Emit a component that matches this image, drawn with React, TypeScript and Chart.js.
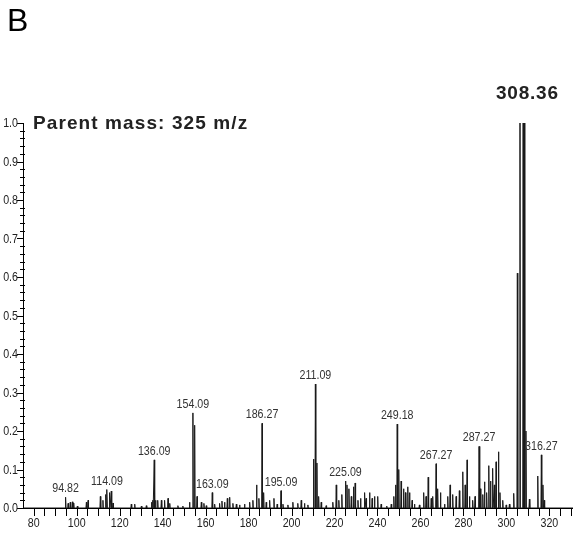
import React, { useEffect, useRef } from 'react';
import { Chart, registerables } from 'chart.js';

Chart.register(...registerables);

// m/z positions of peaks and their relative intensities (values > 1 are clipped at the top)
const PEAK_MZ = [
  94.82, 96.0, 97.0, 98.0, 98.6, 100.3, 104.5, 105.3, 111.0, 112.2, 113.5, 114.09, 115.3, 116.1, 116.9,
  125.4, 127.0, 130.1, 132.4, 134.8, 135.4, 136.09, 136.7, 137.7, 139.4, 140.9, 142.5, 143.3, 147.1, 149.4,
  152.5, 154.09, 154.9, 156.0, 158.0, 159.2, 160.3, 163.09, 164.2, 166.5, 167.6, 168.8, 170.1, 171.2, 172.7,
  174.3, 175.8, 178.1, 180.5, 182.0, 183.7, 184.8, 186.27, 187.0, 188.2, 189.8, 191.8, 193.3, 195.09, 196.0,
  198.3, 200.6, 202.9, 204.5, 206.0, 207.6, 210.2, 211.09, 211.8, 212.6, 213.8, 216.1, 219.2, 220.8, 222.0,
  223.4, 225.09, 225.8, 226.7, 227.8, 228.8, 229.6, 230.9, 232.1, 234.0, 234.7, 236.3, 237.5, 238.6, 240.1,
  241.7, 244.3, 246.4, 247.6, 248.4, 249.18, 249.9, 251.0, 252.1, 253.0, 254.1, 254.9, 256.1, 257.2, 259.5,
  261.5, 262.6, 263.6, 265.0, 265.7, 267.27, 268.0, 269.3, 271.2, 272.7, 273.8, 275.0, 276.6, 278.1, 279.7,
  280.8, 281.7, 282.8, 284.3, 285.4, 287.27, 287.9, 289.0, 289.8, 290.8, 291.8, 292.6, 293.6, 294.4, 295.2,
  296.3, 297.0, 298.3, 299.9, 301.4, 303.4, 305.1, 306.3, 307.8, 308.36, 309.1, 310.7, 314.6, 316.27, 317.0,
  317.6,
];
const PEAK_INT = [
  0.028, 0.012, 0.015, 0.016, 0.013, 0.005, 0.015, 0.02, 0.03, 0.02, 0.035, 0.048, 0.04, 0.044, 0.013,
  0.01, 0.01, 0.005, 0.006, 0.015, 0.02, 0.125, 0.02, 0.02, 0.02, 0.02, 0.025, 0.012, 0.006, 0.005,
  0.015, 0.247, 0.215, 0.03, 0.015, 0.012, 0.006, 0.04, 0.01, 0.012, 0.018, 0.015, 0.025, 0.028, 0.012,
  0.01, 0.008, 0.01, 0.015, 0.02, 0.06, 0.025, 0.22, 0.04, 0.015, 0.02, 0.025, 0.01, 0.045, 0.01,
  0.008, 0.015, 0.012, 0.02, 0.012, 0.008, 0.127, 0.322, 0.117, 0.03, 0.015, 0.006, 0.015, 0.06, 0.02,
  0.035, 0.07, 0.06, 0.05, 0.03, 0.055, 0.065, 0.02, 0.025, 0.04, 0.025, 0.04, 0.025, 0.03, 0.03,
  0.01, 0.005, 0.01, 0.03, 0.06, 0.218, 0.1, 0.07, 0.05, 0.04, 0.055, 0.04, 0.02, 0.01, 0.008,
  0.04, 0.03, 0.08, 0.025, 0.03, 0.115, 0.05, 0.04, 0.01, 0.03, 0.06, 0.035, 0.03, 0.045, 0.094,
  0.06, 0.125, 0.03, 0.02, 0.03, 0.16, 0.05, 0.035, 0.068, 0.04, 0.11, 0.07, 0.103, 0.06, 0.12,
  0.146, 0.04, 0.02, 0.008, 0.01, 0.038, 0.61, 1.5, 1.5, 1.5, 0.2, 0.023, 0.083, 0.138, 0.06,
  0.02,
];

// annotated peaks
const LABEL_MZ = [94.82, 114.09, 136.09, 154.09, 163.09, 186.27, 195.09, 211.09, 225.09, 249.18, 267.27, 287.27, 316.27];
const LABEL_TEXT = ['94.82', '114.09', '136.09', '154.09', '163.09', '186.27', '195.09', '211.09', '225.09', '249.18', '267.27', '287.27', '316.27'];
const TOP_LABEL_MZ = 308.36;
const TOP_LABEL_TEXT = '308.36';

const PANEL_LETTER = 'B';
const PARENT_TEXT = 'Parent mass: 325 m/z';

// axes
const X_MIN = 75;
const X_MAX = 331;
const X_TICKS = [80, 100, 120, 140, 160, 180, 200, 220, 240, 260, 280, 300, 320];
const X_TICK_LABELS = ['80', '100', '120', '140', '160', '180', '200', '220', '240', '260', '280', '300', '320'];
const X_MINOR_STEP = 5;
const Y_TICKS = [0, 0.1, 0.2, 0.3, 0.4, 0.5, 0.6, 0.7, 0.8, 0.9, 1.0];
const Y_TICK_LABELS = ['0.0', '0.1', '0.2', '0.3', '0.4', '0.5', '0.6', '0.7', '0.8', '0.9', '1.0'];
const Y_MINOR_STEP = 0.02;

const NARROW = 0.82;

function narrowText(ctx: CanvasRenderingContext2D, text: string, x: number, y: number, align: 'left' | 'right' | 'center') {
  ctx.save();
  ctx.translate(x, y);
  ctx.scale(NARROW, 1);
  ctx.textAlign = align;
  ctx.fillText(text, 0, 0);
  ctx.restore();
}

const decorPlugin = {
  id: 'decor',
  afterDraw(chart: any) {
    const { ctx, chartArea, scales } = chart;
    const xs = scales.x;
    const ys = scales.y;
    const left = chartArea.left;
    const bottom = chartArea.bottom;
    ctx.save();
    ctx.strokeStyle = '#000';
    ctx.lineWidth = 1;
    // y ticks
    const nY = Math.round(1 / Y_MINOR_STEP);
    for (let i = 0; i <= nY; i++) {
      const v = i * Y_MINOR_STEP;
      const py = Math.round(ys.getPixelForValue(v)) + 0.5;
      const major = i % 5 === 0;
      ctx.beginPath();
      ctx.moveTo(major ? left - 6 : left - 3, py);
      ctx.lineTo(major ? left + 1 : left + 2, py);
      ctx.stroke();
    }
    // x ticks
    for (let v = X_TICKS[0]; v <= X_MAX; v += X_MINOR_STEP) {
      const px = Math.round(xs.getPixelForValue(v)) + 0.5;
      ctx.beginPath();
      ctx.moveTo(px, bottom);
      ctx.lineTo(px, bottom + 8);
      ctx.stroke();
    }
    // tick labels
    ctx.fillStyle = '#222';
    ctx.font = '13px "Liberation Sans", Arial, sans-serif';
    ctx.textBaseline = 'middle';
    Y_TICKS.forEach((v, i) => {
      narrowText(ctx, Y_TICK_LABELS[i], 18, ys.getPixelForValue(v) + 0.5, 'right');
    });
    X_TICKS.forEach((v, i) => {
      narrowText(ctx, X_TICK_LABELS[i], xs.getPixelForValue(v), bottom + 15, 'center');
    });
    // peak labels
    ctx.fillStyle = '#333';
    ctx.textBaseline = 'alphabetic';
    LABEL_MZ.forEach((mz, i) => {
      const idx = PEAK_MZ.indexOf(mz);
      const h = idx >= 0 ? PEAK_INT[idx] : 0;
      narrowText(ctx, LABEL_TEXT[i], xs.getPixelForValue(mz), ys.getPixelForValue(h) - 5, 'center');
    });
    // top label
    ctx.fillStyle = '#222';
    ctx.font = 'bold 19px "Liberation Sans", Arial, sans-serif';
    (ctx as any).letterSpacing = '0.8px';
    ctx.textAlign = 'center';
    ctx.fillText(TOP_LABEL_TEXT, xs.getPixelForValue(TOP_LABEL_MZ) + 3, chartArea.top - 24);
    // parent mass text
    ctx.font = 'bold 19px "Liberation Sans", Arial, sans-serif';
    (ctx as any).letterSpacing = '1.1px';
    ctx.textAlign = 'left';
    ctx.fillText(PARENT_TEXT, 33, chartArea.top + 6);
    // panel letter
    (ctx as any).letterSpacing = '0px';
    ctx.fillStyle = '#000';
    ctx.font = '32px "Liberation Sans", Arial, sans-serif';
    ctx.fillText(PANEL_LETTER, 7, 31);
    ctx.restore();
  },
};

function buildPoints() {
  const pts: { x: number; y: number }[] = [{ x: X_MIN, y: 0 }];
  for (let i = 0; i < PEAK_MZ.length; i++) {
    const mz = PEAK_MZ[i];
    const hl = Math.min(0.2, i > 0 ? (mz - PEAK_MZ[i - 1]) / 2 : 0.2);
    const hr = Math.min(0.2, i < PEAK_MZ.length - 1 ? (PEAK_MZ[i + 1] - mz) / 2 : 0.2);
    pts.push({ x: mz - hl, y: 0 }, { x: mz, y: PEAK_INT[i] }, { x: mz + hr, y: 0 });
  }
  pts.push({ x: X_MAX, y: 0 });
  return pts;
}

export default function App() {
  const ref = useRef<HTMLCanvasElement | null>(null);
  useEffect(() => {
    if (!ref.current) return;
    const chart = new Chart(ref.current, {
      type: 'line',
      data: {
        datasets: [
          {
            data: buildPoints(),
            borderColor: '#1a1a1a',
            borderWidth: 1,
            pointRadius: 0,
            tension: 0,
            fill: false,
          },
        ],
      },
      options: {
        animation: false,
        responsive: false,
        events: [],
        layout: { padding: { top: 123, left: 0, right: 0, bottom: 0 } },
        plugins: { legend: { display: false }, tooltip: { enabled: false } },
        scales: {
          x: {
            type: 'linear',
            min: X_MIN,
            max: X_MAX,
            ticks: { display: false },
            grid: { display: false },
            border: { display: true, color: '#000', width: 1 },
            afterFit: (s: any) => {
              s.height = 44;
            },
          },
          y: {
            type: 'linear',
            min: 0,
            max: 1,
            ticks: { display: false },
            grid: { display: false },
            border: { display: true, color: '#000', width: 1 },
            afterFit: (s: any) => {
              s.width = 23;
            },
          },
        },
      } as any,
      plugins: [decorPlugin],
    });
    return () => chart.destroy();
  }, []);
  return (
    <div style={{ position: 'fixed', left: 0, top: 0, width: 573, height: 552, background: '#fff' }}>
      <canvas ref={ref} width={573} height={552} style={{ display: 'block', width: 573, height: 552 }} />
    </div>
  );
}
